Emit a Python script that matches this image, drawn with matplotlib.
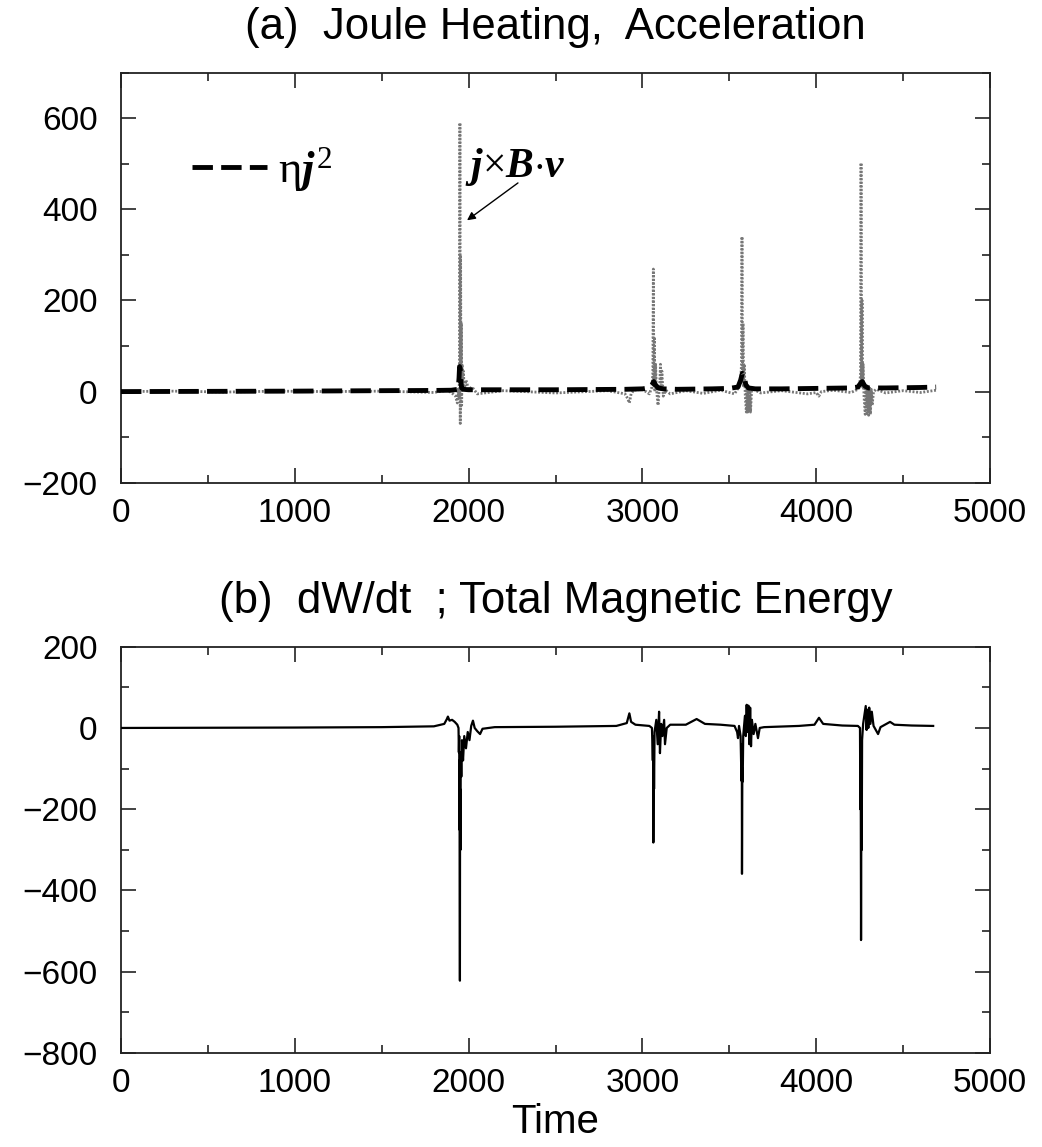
import matplotlib
matplotlib.use("Agg")
import matplotlib.pyplot as plt
from matplotlib.ticker import MultipleLocator

# ---------------- data ----------------
# (a) j x B . v  (grey dotted curve)
acc_time = [0, 300, 600, 900, 1200, 1500, 1800, 1880, 1910, 1925, 1935, 1940, 1945,
            1948, 1950, 1952, 1954, 1956, 1958, 1960, 1963, 1966, 1970, 1975, 1985,
            2000, 2020, 2050, 2200, 2500, 2800, 2900, 2915, 2925, 2935, 2950, 3000,
            3040, 3055, 3060, 3063, 3066, 3069, 3072, 3076, 3080, 3090, 3100, 3104,
            3108, 3112, 3120, 3135, 3160, 3250, 3350, 3450, 3530, 3555, 3565, 3570,
            3573, 3576, 3579, 3582, 3586, 3592, 3598, 3602, 3606, 3610, 3614, 3618,
            3622, 3628, 3640, 3680, 3800, 3950, 4000, 4015, 4030, 4100, 4200, 4240,
            4250, 4255, 4258, 4261, 4264, 4267, 4270, 4275, 4282, 4287, 4292, 4297,
            4302, 4307, 4312, 4317, 4322, 4330, 4345, 4400, 4500, 4600, 4690]
acc_value = [0, 1, -1, 1, 0, 1, -2, 3, -5, -10, -25, 5, -15,
             60, 590, -70, 300, 20, 150, -30, 60, 10, 45, 5, 25,
             5, 10, -5, 2, -3, 2, -5, -15, -25, -5, 3, 5,
             -5, 10, 40, 269, 10, 120, 0, 60, 10, -30, 20, 60,
             5, 45, -10, 3, -5, 2, -4, 3, -5, 10, 20, 60,
             340, 30, 150, 10, 60, -10, -45, 10, -45, 5, -45, 10,
             -45, 0, 5, -3, 2, -5, -2, -10, 0, 3, -2, 5,
             10, 40, 502, 20, 200, 10, 60, -10, -50, 10, -52, 5,
             -52, 10, -50, 5, -30, 0, 5, -3, 2, -2, 3]

# (a) eta j^2  (black dashed curve)
joule_time = [0, 500, 1000, 1500, 1800, 1900, 1940, 1945, 1948, 1952, 1956, 1960,
              1970, 2000, 2100, 2500, 2900, 3000, 3040, 3055, 3065, 3075, 3090, 3120,
              3200, 3400, 3500, 3550, 3565, 3575, 3585, 3595, 3610, 3650, 3800, 4000,
              4200, 4240, 4255, 4265, 4280, 4300, 4400, 4600, 4690]
joule_value = [0, 0.5, 1, 2, 2.5, 3, 5, 30, 55, 50, 20, 8,
               5, 4, 4, 4, 5, 6, 8, 15, 22, 15, 8, 6,
               5, 6, 7, 10, 25, 40, 35, 15, 8, 6, 6, 7,
               8, 10, 18, 22, 12, 8, 8, 9, 10]

# (b) dW/dt  (black solid curve)
dwdt_time = [0, 500, 1000, 1500, 1800, 1860, 1875, 1881, 1890, 1905, 1920, 1935,
             1942, 1944, 1946, 1947, 1948, 1950, 1951, 1953, 1955, 1958, 1962, 1968,
             1975, 1985, 1995, 2005, 2015, 2025, 2035, 2050, 2066, 2080, 2150, 2500,
             2850, 2910, 2925, 2935, 2960, 3040, 3055, 3060, 3062, 3063, 3065, 3067,
             3070, 3080, 3088, 3096, 3101, 3108, 3115, 3125, 3130, 3140, 3160, 3250,
             3312, 3360, 3450, 3530, 3545, 3550, 3556, 3565, 3570, 3572, 3573, 3575,
             3577, 3580, 3590, 3595, 3600, 3605, 3610, 3615, 3620, 3625, 3630, 3640,
             3650, 3665, 3675, 3700, 3900, 3990, 4016, 4040, 4150, 4240, 4252, 4254,
             4256, 4258, 4260, 4262, 4264, 4270, 4285, 4290, 4295, 4300, 4305, 4312,
             4320, 4330, 4356, 4370, 4425, 4450, 4550, 4673]
dwdt_value = [0, 0.5, 1, 2, 4, 10, 22, 28, 18, 20, 15, 8,
              0, -60, -20, -250, -80, -622, -150, -300, -60, -120, -30, -80,
              -20, -50, -10, -30, 5, 18, 0, -8, -15, -2, 2, 3,
              5, 12, 36, 15, 8, 5, 0, -80, -20, -282, -30, -150,
              -10, 20, -40, 40, -62, 10, -20, 20, -40, 0, 8, 8,
              22, 10, 8, 5, -10, -25, 5, -20, -130, -40, -359, -100,
              -132, -20, 30, -20, 57, -10, 55, -40, 50, -45, 20, -15,
              10, -25, 0, 2, 5, 8, 25, 10, 6, 5, 0, -200,
              -60, -522, -150, -300, -30, 10, 54, -5, 45, 0, 50, 10,
              40, 5, -15, 2, 15, 8, 6, 5]

x_ticks = [0, 1000, 2000, 3000, 4000, 5000]
y_ticks_a = [-200, 0, 200, 400, 600]
y_ticks_b = [-800, -600, -400, -200, 0, 200]

title_a = "(a)  Joule Heating,  Acceleration"
title_b = "(b)  dW/dt  ; Total Magnetic Energy"
x_label = "Time"

# ---------------- styling ----------------
plt.rcParams['font.family'] = ['Liberation Sans', 'DejaVu Sans']
plt.rcParams['mathtext.fontset'] = 'custom'
plt.rcParams['mathtext.rm'] = 'Liberation Serif'
plt.rcParams['mathtext.it'] = 'Liberation Serif:italic:bold'
plt.rcParams['mathtext.bf'] = 'Liberation Serif:bold'

W, H = 1042, 1147
fig = plt.figure(figsize=(W / 100, H / 100), dpi=100)
left, width = 121 / W, 869 / W
ax1 = fig.add_axes([left, 1 - 482.7 / H, width, 410 / H])
ax2 = fig.add_axes([left, 1 - 1053 / H, width, 406.3 / H])

TICK_FS = 24
for ax in (ax1, ax2):
    ax.set_xlim(0, 5000)
    ax.set_xticks(x_ticks)
    ax.xaxis.set_minor_locator(MultipleLocator(500))
    ax.yaxis.set_minor_locator(MultipleLocator(100))
    ax.tick_params(which='both', direction='in', top=True, right=True, width=1.2,
                   color='#222222')
    ax.tick_params(which='major', length=11)
    ax.tick_params(which='minor', length=6)
    ax.tick_params(axis='x', which='major', labelsize=TICK_FS, pad=11)
    ax.tick_params(axis='y', which='major', labelsize=TICK_FS, pad=17)
    for s in ax.spines.values():
        s.set_linewidth(1.3)
        s.set_color('#222222')

# ---- panel (a)
ax1.set_ylim(-200, 700)
ax1.set_yticks(y_ticks_a)
ax1.plot(acc_time, acc_value, color='#777777', lw=2.0, linestyle=(0, (0.7, 0.6)),
         zorder=2)
ax1.plot(joule_time, joule_value, color='black', lw=3.5, dashes=(4.2, 1.7),
         zorder=3, label=r'$\mathrm{\eta}j^{2}$')
ax1.legend(loc='center left', bbox_to_anchor=((192 - 121) / 869, 1 - (170 - 72.7) / 410),
           frameon=False, fontsize=32, handlelength=1.69, handletextpad=0.25,
           borderpad=0, borderaxespad=0)
ax1.annotate('', xy=(1991, 376), xytext=(2284, 458),
             arrowprops=dict(arrowstyle='-|>', lw=1.0, color='black',
                             mutation_scale=12, shrinkA=0, shrinkB=0))
ax1.text(2270, 472, r'$j{\times}B{\cdot}v$', ha='center', va='baseline',
         fontsize=30)
ax1.set_title(title_a, fontsize=31.5, pad=24)

# ---- panel (b)
ax2.set_ylim(-800, 200)
ax2.set_yticks(y_ticks_b)
ax2.plot(dwdt_time, dwdt_value, color='black', lw=1.6, zorder=3)
ax2.set_title(title_b, fontsize=31.5, pad=24)
ax2.set_xlabel(x_label, fontsize=29, labelpad=3)

fig.savefig('out.png', dpi=100)
